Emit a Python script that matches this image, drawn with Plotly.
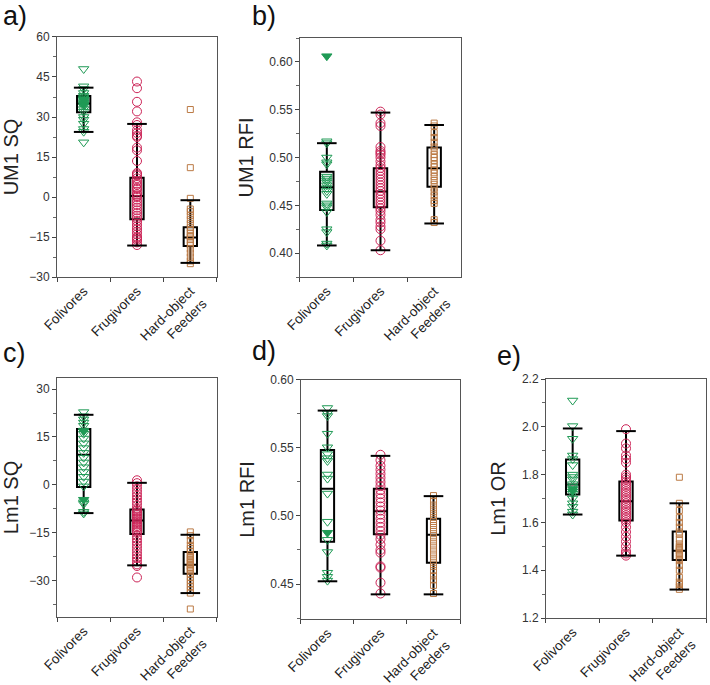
import plotly.graph_objects as go

CATS = ["Folivores", "Frugivores", "Hard-object<br>Feeders"]

# ---------- Panel a: UM1 SQ ----------
a_fol = [48, 41.5, 40.5, 39, 38, 37.5, 37, 36.5, 36, 35.5, 35, 34, 33, 32, 30, 29, 27.5, 25.5, 24.5, 20.5]
a_fol_f = [36.5, 34.5]
a_fru = [43.3, 40.8, 35.7, 32.1, 28, 27, 25, 24, 23, 22.5, 18.5, 17.5, 13.5, 9, 8.5, 8, 7, 6, 5, 4.5,
         3.5, 3, 2, 1, 0.5, 0, -1, -2, -3, -4, -5, -6, -7, -8, -9, -10, -11, -12, -13, -14, -15, -15.5,
         -16, -17, -18]
a_hof = [32.8, 11, -0.5, -4.5, -5.5, -7, -8.5, -10, -11.5, -12.5, -13.5, -14.5, -15, -16, -17, -18,
         -19.5, -21, -22.5, -24, -25]
a_q1 = [31.8, -8.3, -18.4]
a_med = [35.1, 0.4, -15.2]
a_q3 = [37.9, 7.2, -11.3]
a_lo = [24.4, -18.2, -24.7]
a_hi = [41.0, 27.4, -1.2]

# ---------- Panel b: UM1 RFI ----------
b_fol = [0.517, 0.515, 0.50, 0.495, 0.493, 0.48, 0.478, 0.476, 0.474, 0.471, 0.468, 0.465, 0.462,
         0.452, 0.45, 0.448, 0.443, 0.425, 0.422, 0.41, 0.408]
b_fol_f = [0.606]
b_fru = [0.548, 0.545, 0.536, 0.533, 0.511, 0.507, 0.505, 0.503, 0.50, 0.496, 0.492, 0.489, 0.486,
         0.483, 0.48, 0.477, 0.474, 0.471, 0.468, 0.465, 0.462, 0.459, 0.456, 0.453, 0.45, 0.447,
         0.444, 0.44, 0.435, 0.432, 0.428, 0.425, 0.413, 0.403]
b_hof = [0.536, 0.533, 0.526, 0.521, 0.516, 0.511, 0.507, 0.503, 0.50, 0.497, 0.493, 0.49, 0.487,
         0.484, 0.48, 0.476, 0.472, 0.468, 0.464, 0.46, 0.455, 0.452, 0.435, 0.432]
b_q1 = [0.445, 0.448, 0.4695]
b_med = [0.469, 0.4644, 0.4888]
b_q3 = [0.485, 0.4888, 0.5105]
b_lo = [0.408, 0.403, 0.431]
b_hi = [0.515, 0.547, 0.534]

# ---------- Panel c: Lm1 SQ ----------
c_fol = [22.8, 21.5, 20.5, 19.5, 18.5, 17, 16, 14.5, 13, 11.5, 10, 8.5, 7, 5.5, 4, 2.5, 1, -0.5,
         -5.5, -6, -8.5, -9]
c_fol_f = [16.8, -4.7]
c_fru = [1.4, 0.5, -0.5, -1.5, -2.5, -3.5, -4.5, -5.5, -6.5, -7.5, -8, -8.5, -9, -9.5, -10, -10.5,
         -11, -11.5, -12, -12.5, -13, -13.5, -14, -14.5, -15, -16, -17, -18, -19, -20, -21, -22,
         -23, -24, -25, -25.5, -29.1]
c_hof = [-14.8, -16, -17.5, -19, -20, -21, -22, -22.5, -23, -23.5, -24, -24.5, -25, -25.5, -26,
         -26.5, -27, -28, -29, -30, -31, -32, -33, -34, -39]
c_q1 = [-0.7, -15.5, -27.9]
c_med = [9.4, -11.2, -25.1]
c_q3 = [17.5, -7.8, -21.1]
c_lo = [-8.9, -25.3, -34.0]
c_hi = [21.95, 0.6, -15.7]

# ---------- Panel d: Lm1 RFI ----------
d_fol = [0.5794, 0.5755, 0.5735, 0.5605, 0.5505, 0.5455, 0.5425, 0.5405, 0.5305, 0.5275, 0.5165,
         0.4958, 0.4825, 0.4735, 0.4583, 0.4553, 0.4525]
d_fol_f = [0.4877]
d_fru = [0.545, 0.541, 0.537, 0.534, 0.531, 0.528, 0.525, 0.522, 0.519, 0.516, 0.513, 0.51, 0.507,
         0.504, 0.501, 0.498, 0.495, 0.492, 0.489, 0.486, 0.483, 0.479, 0.475, 0.473, 0.463, 0.462,
         0.451, 0.443]
d_hof = [0.515, 0.511, 0.508, 0.505, 0.502, 0.499, 0.496, 0.493, 0.49, 0.487, 0.484, 0.481, 0.478,
         0.475, 0.472, 0.469, 0.466, 0.463, 0.46, 0.456, 0.453, 0.449, 0.443]
d_q1 = [0.481, 0.4865, 0.4657]
d_med = [0.52, 0.5034, 0.4862]
d_q3 = [0.5486, 0.52, 0.498]
d_lo = [0.452, 0.4424, 0.4424]
d_hi = [0.5775, 0.5442, 0.5146]

# ---------- Panel e: Lm1 OR ----------
e_fol = [2.11, 2.003, 1.95, 1.88, 1.865, 1.84, 1.80, 1.79, 1.78, 1.76, 1.75, 1.72, 1.70, 1.68,
         1.665, 1.645, 1.633]
e_fol_f = [1.74, 1.73]
e_fru = [1.99, 1.93, 1.91, 1.88, 1.865, 1.85, 1.80, 1.79, 1.78, 1.77, 1.76, 1.75, 1.74, 1.73, 1.72,
         1.71, 1.70, 1.69, 1.68, 1.67, 1.66, 1.65, 1.64, 1.63, 1.62, 1.61, 1.60, 1.58, 1.56, 1.54,
         1.52, 1.50, 1.48, 1.47, 1.461]
e_hof = [1.789, 1.68, 1.65, 1.62, 1.60, 1.58, 1.56, 1.55, 1.53, 1.51, 1.50, 1.495, 1.49, 1.485,
         1.48, 1.47, 1.46, 1.45, 1.44, 1.42, 1.40, 1.37, 1.35, 1.34, 1.33, 1.32]
e_q1 = [1.717, 1.608, 1.443]
e_med = [1.759, 1.689, 1.481]
e_q3 = [1.863, 1.771, 1.562]
e_lo = [1.633, 1.461, 1.319]
e_hi = [1.993, 1.982, 1.68]

GREEN = "#1f9a55"
RED = "#cc2457"
BROWN = "#bb7a45"
FONT = "Arial, 'Liberation Sans', sans-serif"

panels = [
    dict(label="a)", ytitle="UM1 SQ", pts=[a_fol, a_fru, a_hof], filled=[a_fol_f, [], []],
         stats=(a_q1, a_med, a_q3, a_lo, a_hi), yrange=[-30, 60], dtick=15, mdtick=7.5, fmt="d",
         xdom=[0.0803, 0.3056], ydom=[0.5956, 0.946], lx=0.002, ly=0.977, standoff=12),
    dict(label="b)", ytitle="UM1 RFI", pts=[b_fol, b_fru, b_hof], filled=[b_fol_f, [], []],
         stats=(b_q1, b_med, b_q3, b_lo, b_hi), yrange=[0.375, 0.625], dtick=0.05, mdtick=0.025,
         fmt=".2f", xdom=[0.4225, 0.6493], ydom=[0.5956, 0.9445], lx=0.352, ly=0.977, standoff=10),
    dict(label="c)", ytitle="Lm1 SQ", pts=[c_fol, c_fru, c_hof], filled=[c_fol_f, [], []],
         stats=(c_q1, c_med, c_q3, c_lo, c_hi), yrange=[-41.5, 33.5], dtick=15, mdtick=7.5, fmt="d",
         xdom=[0.0803, 0.3056], ydom=[0.0993, 0.4482], lx=0.002, ly=0.484, standoff=12),
    dict(label="d)", ytitle="Lm1 RFI", pts=[d_fol, d_fru, d_hof], filled=[d_fol_f, [], []],
         stats=(d_q1, d_med, d_q3, d_lo, d_hi), yrange=[0.4243, 0.60], dtick=0.05, mdtick=0.025,
         fmt=".2f", xdom=[0.4239, 0.6479], ydom=[0.0964, 0.4453], lx=0.352, ly=0.487, standoff=10),
    dict(label="e)", ytitle="Lm1 OR", pts=[e_fol, e_fru, e_hof], filled=[e_fol_f, [], []],
         stats=(e_q1, e_med, e_q3, e_lo, e_hi), yrange=[1.2, 2.2], dtick=0.2, mdtick=0.1,
         fmt=".1f", xdom=[0.769, 0.9944], ydom=[0.0978, 0.4467], lx=0.697, ly=0.48, standoff=10),
]

styles = [
    dict(symbol="triangle-down-open", size=9, color=GREEN, fsym="triangle-down"),
    dict(symbol="circle-open", size=9, color=RED, fsym="circle"),
    dict(symbol="square-open", size=6, color=BROWN, fsym="square"),
]

fig = go.Figure()
layout = dict(width=710, height=685, margin=dict(l=0, r=0, t=0, b=0, autoexpand=False),
              autosize=False, paper_bgcolor="white", plot_bgcolor="white", showlegend=False,
              font=dict(family=FONT, color="#222"), annotations=[])

for k, p in enumerate(panels):
    n = "" if k == 0 else str(k + 1)
    xa, ya = "x" + n, "y" + n
    # points
    for i, cat in enumerate(CATS):
        st = styles[i]
        fig.add_trace(go.Scatter(
            x=[cat] * len(p["pts"][i]), y=p["pts"][i], mode="markers", xaxis=xa, yaxis=ya,
            marker=dict(symbol=st["symbol"], size=st["size"], color=st["color"],
                        line=dict(color=st["color"], width=1)),
            hoverinfo="y", showlegend=False))
        if p["filled"][i]:
            fig.add_trace(go.Scatter(
                x=[cat] * len(p["filled"][i]), y=p["filled"][i], mode="markers", xaxis=xa, yaxis=ya,
                marker=dict(symbol=st["fsym"], size=st["size"], color=st["color"],
                            line=dict(color=st["color"], width=1)),
                hoverinfo="y", showlegend=False))
    q1, med, q3, lo, hi = p["stats"]
    fig.add_trace(go.Box(
        x=CATS, q1=q1, median=med, q3=q3, lowerfence=lo, upperfence=hi, xaxis=xa, yaxis=ya,
        width=0.25, whiskerwidth=0, boxpoints=False, fillcolor="rgba(0,0,0,0)",
        line=dict(color="black", width=2), showlegend=False))
    fig.add_trace(go.Scatter(
        x=CATS + CATS, y=lo + hi, mode="markers", xaxis=xa, yaxis=ya,
        marker=dict(symbol="line-ew", size=14, color="black", line=dict(color="black", width=2)),
        hoverinfo="skip", showlegend=False))

    layout["xaxis" + n] = dict(
        domain=p["xdom"], anchor=ya, type="category", categoryorder="array",
        categoryarray=CATS, range=[-0.5, 2.5], tickson="boundaries", ticks="outside",
        ticklen=4, tickcolor="#444", tickangle=-45, showline=True, mirror=True,
        linecolor="#555", linewidth=1, showgrid=False, zeroline=False, automargin=False,
        tickfont=dict(family=FONT, size=13.5, color="#222"))
    layout["yaxis" + n] = dict(
        domain=p["ydom"], anchor=xa, range=p["yrange"], dtick=p["dtick"], tick0=0,
        tickformat=p["fmt"], ticks="outside", ticklen=4, tickcolor="#444", automargin=False,
        minor=dict(dtick=p["mdtick"], tick0=0, ticks="outside", ticklen=3, tickcolor="#666",
                   showgrid=False),
        showline=True, mirror=True, linecolor="#555", linewidth=1, showgrid=False,
        zeroline=False, tickfont=dict(family=FONT, size=12, color="#333"),
        title=dict(text=p["ytitle"], standoff=p["standoff"],
                   font=dict(family=FONT, size=20, color="#222")))
    layout["annotations"].append(dict(
        text=p["label"], x=p["lx"], y=p["ly"], xref="paper", yref="paper", xanchor="left",
        yanchor="middle", showarrow=False, font=dict(family=FONT, size=27, color="#111")))

fig.update_layout(**layout)
fig.write_html(
    "out.html",
    config={"displayModeBar": False},
    post_script="document.body.style.margin='0';document.body.style.padding='0';"
                "document.documentElement.style.overflow='hidden';",
)
